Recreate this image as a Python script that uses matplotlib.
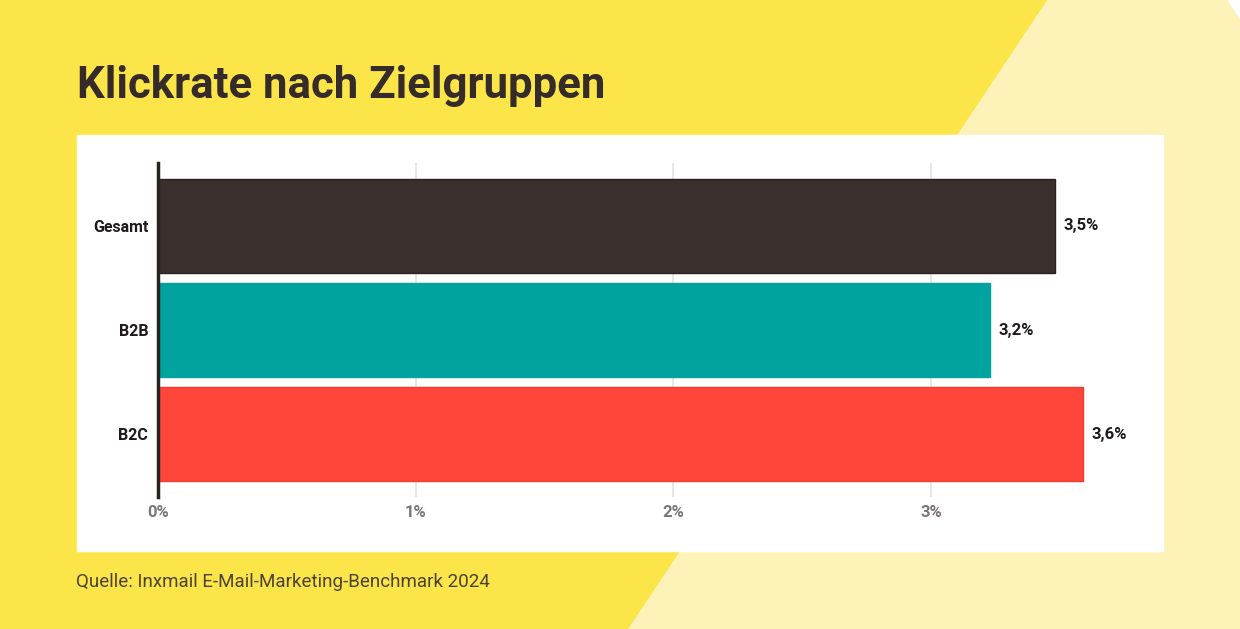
import matplotlib.pyplot as plt
from matplotlib.patches import Polygon, Rectangle

plt.rcParams['font.family'] = ['Roboto', 'DejaVu Sans']

# Daten
categories = ['Gesamt', 'B2B', 'B2C']
values = [3.48, 3.23, 3.59]
bar_colors = ['#3A2F2D', '#00A39D', '#FF463B']
edge_colors = ['#2A2220', '#00A39D', '#F23A30']
xticks = [0, 1, 2, 3]
xtick_labels = ['0%', '1%', '2%', '3%']

W, H = 1240, 629
fig = plt.figure(figsize=(W / 100, H / 100), dpi=100)

# Hintergrund (Pixelkoordinaten)
bg = fig.add_axes([0, 0, 1, 1])
bg.set_xlim(0, W)
bg.set_ylim(H, 0)
bg.axis('off')
bg.add_patch(Rectangle((0, 0), W, H, color='#FCE548', zorder=0))
bg.add_patch(Polygon([(1048, 0), (1228, 0), (1240, 18), (1240, H), (629, H)],
                     closed=True, color='#FDF3B9', zorder=1))
bg.add_patch(Polygon([(1228, 0), (1240, 0), (1240, 18)], closed=True, color='white', zorder=1))
bg.add_patch(Rectangle((77, 135), 1163 - 77, 551 - 135, color='white', zorder=2))

bg.text(77, 86, 'Klickrate nach Zielgruppen', fontsize=31.5, fontweight='bold',
        color='#352B29', va='center', ha='left', zorder=3)
bg.text(76, 582, 'Quelle: Inxmail E-Mail-Marketing-Benchmark 2024', fontsize=13.5,
        color='#4A4235', va='center', ha='left', zorder=3)

# Diagramm
ax = fig.add_axes([158 / W, 132 / H, 1005 / W, 334 / H])
ax.set_facecolor('none')
ypos = list(range(len(categories)))
bars = ax.barh(ypos, values, height=0.9, color=bar_colors, edgecolor=edge_colors,
               linewidth=1, zorder=2)
ax.set_ylim(2.6, -0.6)
ax.set_xlim(0, 3.9)

ax.set_xticks(xticks)
ax.set_xticklabels(xtick_labels, fontsize=12, fontweight='bold', color='#7A7574')
ax.set_yticks(ypos)
ax.set_yticklabels(categories, fontsize=11.5, fontweight='bold', color='#1E1A19')
ax.tick_params(axis='both', length=0, pad=6)
ax.tick_params(axis='y', pad=7)
ax.grid(axis='x', color='#E3E3E3', linewidth=1.2, zorder=0)

for s in ['top', 'right', 'bottom']:
    ax.spines[s].set_visible(False)
ax.spines['left'].set_color('#2A2220')
ax.spines['left'].set_linewidth(2.5)
ax.spines['left'].set_zorder(3)

for b, v in zip(bars, values):
    ax.annotate(f'{v:.1f}'.replace('.', ',') + '%',
                xy=(b.get_width(), b.get_y() + b.get_height() / 2),
                xytext=(6, 0), textcoords='offset points',
                va='center', ha='left', fontsize=12, fontweight='bold', color='#1E1A19')

plt.savefig('out.png', dpi=100)
